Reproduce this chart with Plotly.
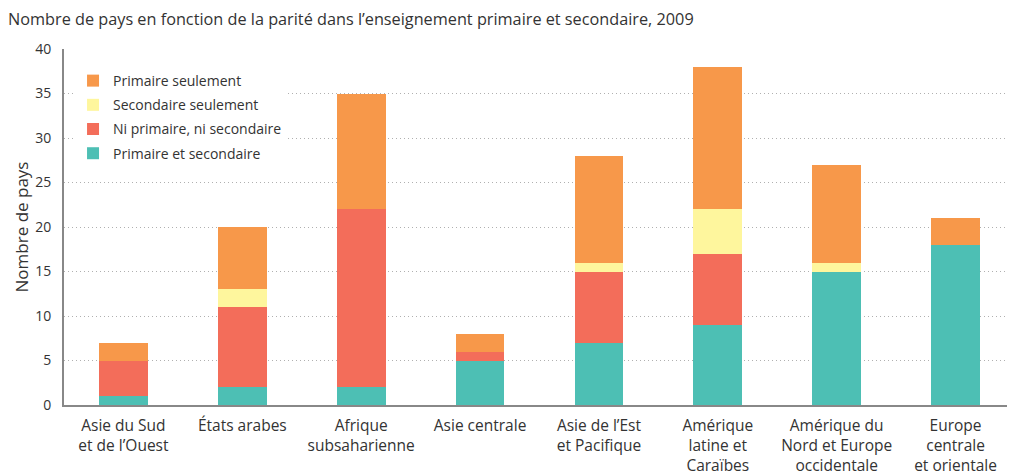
import plotly.graph_objects as go

categories = ["Asie du Sud<br>et de l’Ouest", "États arabes", "Afrique<br>subsaharienne",
              "Asie centrale", "Asie de l’Est<br>et Pacifique", "Amérique<br>latine et<br>Caraïbes",
              "Amérique du<br>Nord et Europe<br>occidentale", "Europe<br>centrale<br>et orientale"]
primaire_et_secondaire = [1, 2, 2, 5, 7, 9, 15, 18]
ni_primaire_ni_secondaire = [4, 9, 20, 1, 8, 8, 0, 0]
secondaire_seulement = [0, 2, 0, 0, 1, 5, 1, 0]
primaire_seulement = [2, 7, 13, 2, 12, 16, 11, 3]

series = [
    ("Primaire et secondaire", primaire_et_secondaire, "#4DBFB4", 4),
    ("Ni primaire, ni secondaire", ni_primaire_ni_secondaire, "#F36D5A", 3),
    ("Secondaire seulement", secondaire_seulement, "#FEF69D", 2),
    ("Primaire seulement", primaire_seulement, "#F7984A", 1),
]

FONT = "Open Sans"
fig = go.Figure()
for name, vals, col, rank in series:
    fig.add_trace(go.Bar(x=categories, y=vals, name=name, legendgroup=name, legendrank=rank,
                         marker=dict(color=col, line=dict(width=0)), width=0.41))

# page body has an 8px margin: figure is sized/offset to compensate
fig.update_layout(
    width=1007, height=467,
    barmode="stack",
    plot_bgcolor="white", paper_bgcolor="white",
    margin=dict(l=56, r=0, t=41, b=70, autoexpand=False),
    font=dict(family=FONT, size=15, color="#333333"),
    title=dict(text="Nombre de pays en fonction de la parité dans l’enseignement primaire et secondaire, 2009",
               x=0.0, xanchor="left", xref="container", y=0.9764, yanchor="middle", yref="container",
               pad=dict(t=0, l=0), font=dict(family=FONT, size=16.25, color="#333333")),
    legend=dict(x=0.0095, y=0.955, xanchor="left", yanchor="top", traceorder="grouped",
                bgcolor="white", font=dict(family=FONT, size=14, color="#333333"),
                itemwidth=30, tracegroupgap=3),
    showlegend=True,
)
fig.update_xaxes(automargin=False, showline=True, linecolor="#888888", linewidth=2, ticks="", showgrid=False,
                 ticklabelstandoff=5, tickfont=dict(size=15.5, color="#333333"))
fig.update_yaxes(automargin=False, range=[0, 40], dtick=5, showline=True, linecolor="#888888", linewidth=2,
                 showgrid=True, gridcolor="#B0B0B0", griddash="1px,3px", gridwidth=1,
                 zeroline=False, ticks="", ticklabelstandoff=8,
                 title=dict(text="Nombre de pays", font=dict(size=17, color="#333333"), standoff=2),
                 tickfont=dict(size=14, color="#333333"))
fig.write_html("out.html")
